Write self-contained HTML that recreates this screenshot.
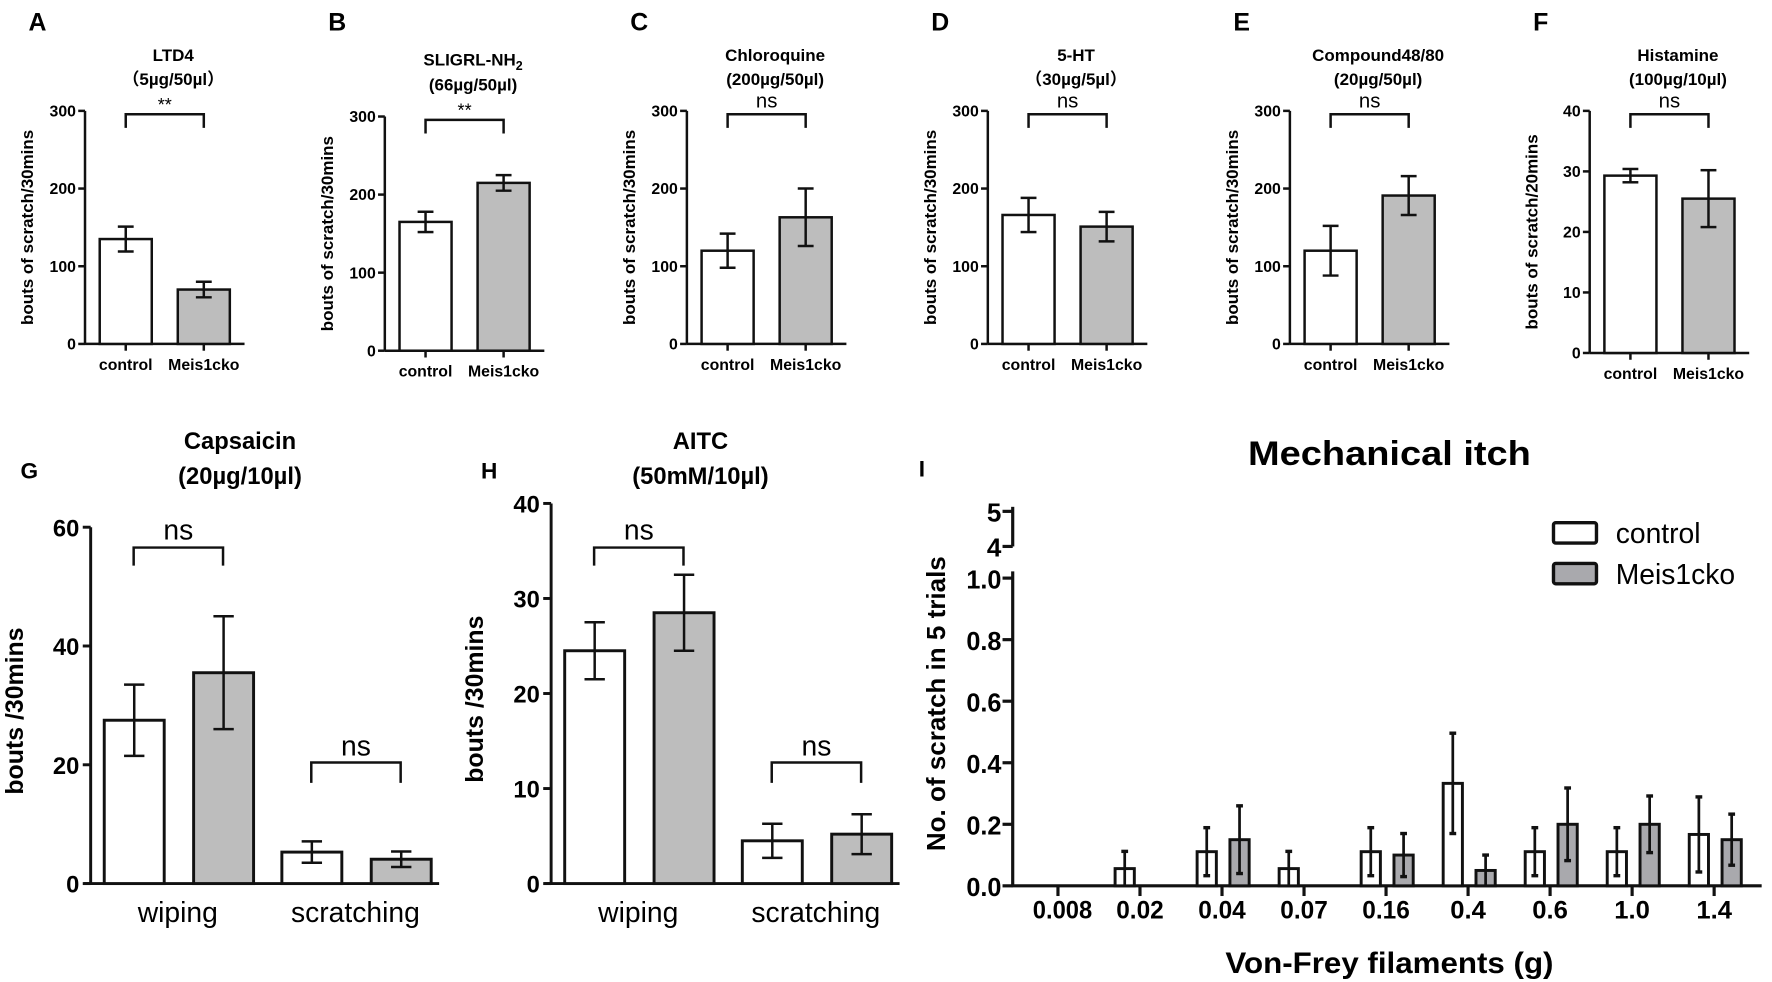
<!DOCTYPE html>
<html><head><meta charset="utf-8"><style>
html,body{margin:0;padding:0;background:#fff;}
svg{display:block;font-family:"Liberation Sans",Arial,sans-serif;}
</style></head><body>
<svg id="fig" width="1772" height="982" viewBox="0 0 1566 868" xmlns="http://www.w3.org/2000/svg">
<g id="root"></g>
</svg>
<script>
// ---- top row data ----
const topTitles1 = ["LTD4","SLIGRL-NH","Chloroquine","5-HT","Compound48/80","Histamine"];
const topTitles2 = ["（5µg/50µl）","(66µg/50µl)","(200µg/50µl)","（30µg/5µl）","(20µg/50µl)","(100µg/10µl)"];
const topLetters = ["A","B","C","D","E","F"];
const topSig = ["**","**","ns","ns","ns","ns"];
const topCtrl = [135,165,120,166,120,29.3];
const topCtrlErr = [16,13,22,22,32,1.1];
const topKo = [70,215,163,151,191,25.5];
const topKoErr = [10,10,37,19,25,4.7];
const topMax = [300,300,300,300,300,40];
const topTicks = [[0,100,200,300],[0,100,200,300],[0,100,200,300],[0,100,200,300],[0,100,200,300],[0,10,20,30,40]];
const topYLabels = ["bouts of scratch/30mins","bouts of scratch/30mins","bouts of scratch/30mins","bouts of scratch/30mins","bouts of scratch/30mins","bouts of scratch/20mins"];
const groupNames = ["control","Meis1cko"];
// ---- G/H data ----
const ghCats = ["wiping","scratching"];
const gCtrl = [27.5,5.3], gCtrlErr=[6,1.8], gKo=[35.5,4.1], gKoErr=[9.5,1.3];
const gTicks = [0,20,40,60];
const hCtrl = [24.5,4.5], hCtrlErr=[3,1.8], hKo=[28.5,5.2], hKoErr=[4,2.1];
const hTicks = [0,10,20,30,40];
// ---- I data ----
const iCats = ["0.008","0.02","0.04","0.07","0.16","0.4","0.6","1.0","1.4"];
const iCtrl = [0,0.056,0.111,0.056,0.111,0.333,0.111,0.111,0.167];
const iCtrlErr = [0,0.056,0.078,0.056,0.078,0.163,0.078,0.078,0.122];
const iKo = [0,0,0.15,0,0.1,0.05,0.2,0.2,0.15];
const iKoErr = [0,0,0.11,0,0.07,0.05,0.118,0.092,0.083];
const iTicks = [0,0.2,0.4,0.6,0.8,1.0];
const iTicksBreak = [4,5];

const NS="http://www.w3.org/2000/svg";
const root=document.getElementById('root');
const GRAY="#bdbdbd";
function el(tag,attrs,parent,text){const e=document.createElementNS(NS,tag);for(const k in attrs)e.setAttribute(k,attrs[k]);if(text!==undefined)e.textContent=text;(parent||root).appendChild(e);return e;}
function line(x1,y1,x2,y2,w,p){return el('line',{x1,y1,x2,y2,stroke:'#111','stroke-width':w||2.4},p);}
function grp(name,p){const g=el('g',{},p||root);return g;}
function errbar(g,cx,yTop,yBot,cap){line(cx,yTop,cx,yBot,2.2,g);line(cx-cap,yTop,cx+cap,yTop,2.2,g);line(cx-cap,yBot,cx+cap,yBot,2.2,g);}
function bracket(g,x1,x2,y,drop,label,fs,ly){el('path',{d:`M${x1},${y+drop}V${y}H${x2}V${y+drop}`,fill:'none',stroke:'#111','stroke-width':2.2},g);el('text',{x:(x1+x2)/2,y:ly,'text-anchor':'middle','font-size':fs},g,label);}

// top row panels
const topAx=[75,340,607,873,1140,1405];
for(let i=0;i<6;i++){
  const g=grp('panel-'+topLetters[i].toLowerCase());
  const ax=topAx[i], yT=(i===1?103:98), y0=(i===1?310:(i===5?312:304));
  const ys=v=>y0-(v/topMax[i])*(y0-yT);
  const t=el('text',{x:ax-50,y:27,'font-size':22,'font-weight':'bold'},g,topLetters[i]);
  
  const cx=ax+78;
  const t1=el('text',{x:cx,y:i===1?58:54,'text-anchor':'middle','font-size':15,'font-weight':'bold'},g,topTitles1[i]);
  
  if(i===1){el('tspan',{'font-size':11,dy:4},t1,'2');}
  const t2=el('text',{x:cx,y:i===1?80:75,'text-anchor':'middle','font-size':15,'font-weight':'bold',
    'font-family':'"Liberation Sans","Noto Sans CJK SC",sans-serif'},g,topTitles2[i]);
  
  line(ax,yT,ax,y0,2.2,g);line(ax,y0,ax+141,y0,2.2,g);
  topTicks[i].forEach(v=>{line(ax-6,ys(v),ax,ys(v),2.2,g);el('text',{x:ax-8,y:ys(v)+5,'text-anchor':'end','font-size':14,'font-weight':'bold'},g,String(v));});
  const yl=el('text',{transform:`translate(${ax-46},${(yT+y0)/2}) rotate(-90)`,'text-anchor':'middle','font-size':15,'font-weight':'bold'},g,topYLabels[i]);
  
  const vals=[topCtrl[i],topKo[i]],errs=[topCtrlErr[i],topKoErr[i]];
  for(let k=0;k<2;k++){
    const x0=ax+13+k*69, c=x0+23;
    const r=el('rect',{x:x0,y:ys(vals[k]),width:46,height:y0-ys(vals[k]),fill:k?GRAY:'#fff',stroke:'#111','stroke-width':2.2},g);
    
    errbar(g,c,ys(vals[k]+errs[k]),ys(vals[k]-errs[k]),7);
    line(c,y0,c,y0+6,2.2,g);
    el('text',{x:c,y:y0+23,'text-anchor':'middle','font-size':14,'font-weight':'bold'},g,groupNames[k]);
  }
  const bs=topSig[i]==='**';
  bracket(g,ax+36,ax+105,yT+3,12,topSig[i],bs?16:18,bs?yT:yT-3);
}

// G and H
function ghPanel(name,letter,title1,title2,ax,ticks,max,ctrl,ce,ko,ke){
  const g=grp(name);const y0=781,yT=ticks===gTicks?466:445;
  const ys=v=>y0-(v/max)*(y0-yT);
  el('text',{x:ax-62,y:423,'font-size':20,'font-weight':'bold'},g,letter);
  el('text',{x:ax+132,y:397,'text-anchor':'middle','font-size':21,'font-weight':'bold'},g,title1);
  el('text',{x:ax+132,y:428,'text-anchor':'middle','font-size':21,'font-weight':'bold'},g,title2);
  line(ax,yT,ax,y0,2.6,g);line(ax-6,y0,ax+308,y0,2.6,g);
  ticks.forEach(v=>{line(ax-7,ys(v),ax,ys(v),2.6,g);el('text',{x:ax-10,y:ys(v)+8,'text-anchor':'end','font-size':21,'font-weight':'bold'},g,String(v));});
  const yl=el('text',{transform:`translate(${ax-60},${(yT+y0)/2+5}) rotate(-90)`,'text-anchor':'middle','font-size':22,'font-weight':'bold'},g,'bouts /30mins');
  
  for(let c=0;c<2;c++){
    const vals=[ctrl[c],ko[c]],errs=[ce[c],ke[c]];
    for(let k=0;k<2;k++){
      const x0=ax+12+c*157+k*79, cx=x0+26.5;
      const r=el('rect',{x:x0,y:ys(vals[k]),width:53,height:y0-ys(vals[k]),fill:k?GRAY:'#fff',stroke:'#111','stroke-width':2.6},g);
      
      errbar(g,cx,ys(vals[k]+errs[k]),ys(vals[k]-errs[k]),9);
    }
    el('text',{x:ax+77+c*157,y:815,'text-anchor':'middle','font-size':25},g,ghCats[c]);
    bracket(g,ax+38+c*157,ax+117+c*157,c?674:484,c?18:16,'ns',25,c?668:477);
  }
}
ghPanel('panel-g','G','Capsaicin','(20µg/10µl)',80,gTicks,60,gCtrl,gCtrlErr,gKo,gKoErr);
ghPanel('panel-h','H','AITC','(50mM/10µl)',487,hTicks,40,hCtrl,hCtrlErr,hKo,hKoErr);

// I
(function(){
  const g=grp('panel-i');const ax=895,y0=783,y1=511;
  const ys=v=>y0-(v/1.0)*(y0-y1);
  const xs=i=>935+i*72.5;
  el('text',{x:812,y:421,'font-size':20,'font-weight':'bold'},g,'I');
  const tt=el('text',{x:1228,y:411,'text-anchor':'middle','font-size':30,'font-weight':'bold',textLength:250,lengthAdjust:'spacingAndGlyphs'},g,'Mechanical itch');
  
  line(ax,505,ax,y0,2.8,g);line(ax,448,ax,483,2.8,g);
  line(ax-1,y0,1557,y0,2.8,g);
  iTicks.forEach(v=>{line(ax-9,ys(v),ax,ys(v),2.8,g);el('text',{x:ax-10,y:ys(v)+9,'text-anchor':'end','font-size':23,'font-weight':'bold',textLength:31,lengthAdjust:'spacingAndGlyphs'},g,v.toFixed(1));});
  const bs=v=>483-(v-4)*(483-452);
  iTicksBreak.forEach(v=>{line(ax-9,bs(v),ax,bs(v),2.8,g);el('text',{x:ax-10,y:bs(v)+9,'text-anchor':'end','font-size':23,'font-weight':'bold'},g,String(v));});
  const yl=el('text',{transform:`translate(835,622) rotate(-90)`,'text-anchor':'middle','font-size':23,'font-weight':'bold'},g,'No. of scratch in 5 trials');
  
  iCats.forEach((c,i)=>{
    const t=xs(i);line(t,y0,t,y0+9,2.8,g);
    el('text',{x:t+(i===0?4:0),y:812,'text-anchor':'middle','font-size':22,'font-weight':'bold',textLength:c.length*10.5,lengthAdjust:'spacingAndGlyphs'},g,c);
    const sets=[[iCtrl,iCtrlErr,t-22,'#fff'],[iKo,iKoErr,t+7,'#a9a9ad']];
    sets.forEach((s,k)=>{
      const v=s[0][i],e=s[1][i];if(v<=0)return;
      const r=el('rect',{x:s[2],y:ys(v),width:17,height:y0-ys(v),fill:s[3],stroke:'#111','stroke-width':2.6},g);
      
      const cx=s[2]+8.5, lo=Math.max(v-e,0);
      line(cx,ys(v+e),cx,ys(lo),2.4,g);line(cx-3,ys(v+e),cx+3,ys(v+e),3,g);
      if(lo>0)line(cx-3,ys(lo),cx+3,ys(lo),3,g);
    });
  });
  const xl=el('text',{x:1228,y:860,'text-anchor':'middle','font-size':26,'font-weight':'bold',textLength:290,lengthAdjust:'spacingAndGlyphs'},g,'Von-Frey filaments (g)');
  
  const lg=grp('legend',g);
  [['control','#fff',462],['Meis1cko','#a9a9ad',498]].forEach(([n,f,y])=>{
    const r=el('rect',{x:1373,y:y,width:38,height:18,rx:2,fill:f,stroke:'#111','stroke-width':3},lg);
    
    el('text',{x:1428,y:y+18,'font-size':25},lg,n);
  });
})();
</script>
</body></html>
